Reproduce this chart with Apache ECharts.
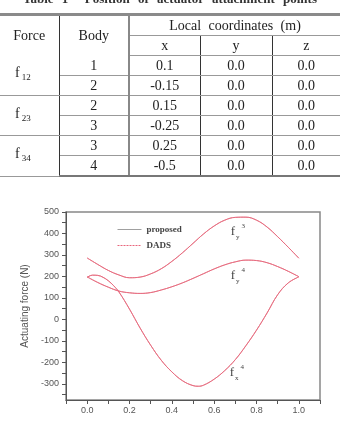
<!DOCTYPE html>
<html>
<head>
<meta charset="utf-8">
<script src="https://cdn.jsdelivr.net/npm/echarts@6/dist/echarts.min.js"></script>
<style>
  html, body { margin: 0; padding: 0; background: #fff; }
  body { width: 340px; height: 424px; position: relative; overflow: hidden; }
  #title {
    position: absolute; left: 0; top: -9px; width: 340px; line-height: 15px;
    text-align: center; font: bold 13px 'Liberation Serif', serif; color: #333;
    word-spacing: 5px; z-index: 2;
  }
  #tbl {
    position: absolute; left: 0; top: 13px; z-index: 2;
    border-collapse: collapse; font: 14px 'Liberation Serif', serif; color: #222;
  }
  #tbl td { padding: 0; text-align: center; height: 19px; line-height: 19px; }
  #tbl tr.top td { border-top: 3px solid #8a8a8a; }
  #tbl .hl { border-bottom: 1px solid #999; }
  #tbl .vl { border-right: 1px solid #333; }
  #tbl .vl2 { border-right: 2px solid #888; }
  #tbl .bb td { border-bottom: 1px solid #999; }
  #tbl .last td { border-bottom: 2px solid #777; }
  #tbl .force { text-align: left; padding-left: 15px; }
  #tbl sub { font-size: 9px; vertical-align: -3px; margin-left: 2px; }
  #chart { position: absolute; left: 0; top: 0; width: 340px; height: 424px; z-index: 1; }
</style>
</head>
<body>
<div id="title">Table 1&nbsp; Position of actuator attachment points</div>
<table id="tbl">
  <colgroup><col style="width:59px"><col style="width:70px"><col style="width:71px"><col style="width:72px"><col style="width:68px"></colgroup>
  <tr class="top">
    <td rowspan="2" class="vl">Force</td>
    <td rowspan="2" class="vl2">Body</td>
    <td colspan="3" class="hl" style="word-spacing:4px">Local coordinates (m)</td>
  </tr>
  <tr class="bb"><td class="vl">x</td><td class="vl">y</td><td>z</td></tr>
  <tr class="bb"><td rowspan="2" class="vl force">f<sub>12</sub></td><td class="vl2">1</td><td class="vl">0.1</td><td class="vl">0.0</td><td>0.0</td></tr>
  <tr class="bb"><td class="vl2">2</td><td class="vl">-0.15</td><td class="vl">0.0</td><td>0.0</td></tr>
  <tr class="bb"><td rowspan="2" class="vl force">f<sub>23</sub></td><td class="vl2">2</td><td class="vl">0.15</td><td class="vl">0.0</td><td>0.0</td></tr>
  <tr class="bb"><td class="vl2">3</td><td class="vl">-0.25</td><td class="vl">0.0</td><td>0.0</td></tr>
  <tr class="bb"><td rowspan="2" class="vl force">f<sub>34</sub></td><td class="vl2">3</td><td class="vl">0.25</td><td class="vl">0.0</td><td>0.0</td></tr>
  <tr class="last"><td class="vl2">4</td><td class="vl">-0.5</td><td class="vl">0.0</td><td>0.0</td></tr>
</table>
<div id="chart"></div>
<script>
// values (time axis 0..1)
const xStep = [0, 0.05, 0.1, 0.15, 0.2, 0.25, 0.3, 0.35, 0.4, 0.45, 0.5,
  0.55, 0.6, 0.65, 0.7, 0.75, 0.8, 0.85, 0.9, 0.95, 1.0]
const fy3 = [286, 256, 228, 207, 194, 197, 212, 236, 270, 310, 354,
  398, 435, 462, 475, 476, 462, 430, 385, 336, 285]
const fy4 = [198, 172, 150, 132, 124, 121, 125, 137, 152, 170, 191,
  213, 235, 254, 268, 276, 274, 264, 246, 224, 199]
const xFx4 = [0, 0.025, 0.05, 0.075, 0.1, 0.125, 0.15, 0.2, 0.25, 0.3, 0.35, 0.4,
  0.45, 0.5, 0.525, 0.55, 0.6, 0.65, 0.7, 0.75, 0.8, 0.85, 0.9, 0.95, 1.0]
const fx4 = [196, 206, 205, 196, 180, 157, 128, 48, -40, -120, -190, -244,
  -285, -308, -311, -306, -278, -238, -187, -122, -50, 30, 115, 170, 198]

const xLabelValues = [0, 0.2, 0.4, 0.6, 0.8, 1.0]
const xTickValues = [-0.1, 0, 0.1, 0.2, 0.3, 0.4, 0.5, 0.6, 0.7, 0.8, 0.9, 1.0, 1.1]
const yLabelValues = [-300, -200, -100, 0, 100, 200, 300, 400, 500]
const yTickValues = [-350, -300, -250, -200, -150, -100, -50, 0, 50, 100, 150,
  200, 250, 300, 350, 400, 450, 500]

// curve name labels: [x, y, sub, sup]
const curveLabels = [
  [0.712, 408, 'y', '3'],
  [0.712, 206, 'y', '4'],
  [0.707, -246, 'x', '4']
]

const proposedColor = '#e4848f'
const dadsColor = '#e8667c'

function pairs(xs, ys) {
  return xs.map((x, i) => [x, ys[i]])
}

const curves = [pairs(xStep, fy3), pairs(xStep, fy4), pairs(xFx4, fx4)]

const series = []
curves.forEach((data, i) => {
  series.push({
    name: 'proposed',
    type: 'line',
    data: data,
    smooth: 0.4,
    symbol: 'none',
    color: proposedColor,
    lineStyle: { width: 1, color: proposedColor },
    z: 2
  })
})
// DADS coincides with the proposed result, drawn on top
curves.forEach((data, i) => {
  const s = {
    name: 'DADS',
    type: 'line',
    data: data,
    smooth: 0.4,
    symbol: 'none',
    color: dadsColor,
    lineStyle: { width: 0.8, color: dadsColor },
    z: 3
  }
  if (i === 0) {
    s.markPoint = {
      symbol: 'circle',
      symbolSize: 1,
      itemStyle: { color: 'rgba(0,0,0,0)' },
      data: curveLabels.map(l => ({
        coord: [l[0], l[1]],
        label: {
          show: true,
          position: 'inside',
          formatter: '{f|f}{sb|' + l[2] + '}{sp|' + l[3] + '}',
          rich: {
            f: { fontFamily: 'Liberation Serif', fontSize: 13, color: '#444', lineHeight: 18, verticalAlign: 'middle' },
            sb: { fontFamily: 'Liberation Serif', fontSize: 7, color: '#444', lineHeight: 8, verticalAlign: 'bottom', padding: [0, 0, 0, 1] },
            sp: { fontFamily: 'Liberation Serif', fontSize: 7, color: '#444', lineHeight: 8, verticalAlign: 'top', padding: [0, 0, 0, 2] }
          }
        }
      }))
    }
  }
  series.push(s)
})

const chart = echarts.init(document.getElementById('chart'))
chart.setOption({
  animation: false,
  grid: {
    left: 66,
    right: 20,
    top: 212,
    bottom: 24,
    show: true,
    borderColor: '#888',
    borderWidth: 1.5
  },
  legend: {
    data: [
      { name: 'proposed', lineStyle: { color: '#a0a0a0', width: 1 } },
      { name: 'DADS', lineStyle: { color: '#e8667c', width: 1, type: [2, 1] } }
    ],
    orient: 'vertical',
    left: 112,
    top: 220,
    itemWidth: 24,
    itemHeight: 8,
    itemGap: 7,
    itemStyle: { opacity: 0 },
    textStyle: {
      fontFamily: 'Liberation Serif',
      fontWeight: 'bold',
      fontSize: 9,
      color: '#444'
    }
  },
  xAxis: {
    type: 'value',
    min: -0.1,
    max: 1.1,
    splitLine: { show: false },
    axisLine: { onZero: false, lineStyle: { color: '#555' } },
    axisTick: { customValues: xTickValues, length: 4, lineStyle: { color: '#555' } },
    axisLabel: {
      customValues: xLabelValues,
      formatter: v => v.toFixed(1),
      margin: 6,
      fontFamily: 'Liberation Sans',
      fontSize: 9,
      color: '#555'
    }
  },
  yAxis: {
    type: 'value',
    min: -375,
    max: 500,
    name: 'Actuating force (N)',
    nameLocation: 'middle',
    nameGap: 23,
    nameTextStyle: { fontFamily: 'Liberation Sans', fontSize: 10, color: '#555' },
    splitLine: { show: false },
    axisLine: { onZero: false, lineStyle: { color: '#555' } },
    axisTick: { customValues: yTickValues, length: 4, lineStyle: { color: '#555' } },
    axisLabel: {
      customValues: yLabelValues,
      margin: 7,
      fontFamily: 'Liberation Sans',
      fontSize: 9,
      color: '#555'
    }
  },
  series: series
})
</script>
</body>
</html>
